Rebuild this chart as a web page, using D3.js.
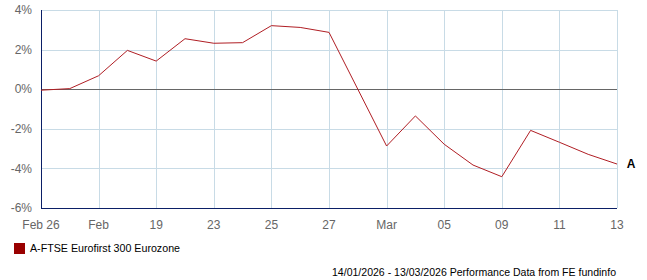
<!DOCTYPE html>
<html>
<head>
	<meta charset="utf-8">
	<title>FTSE Eurofirst 300 Eurozone</title>
	<style>
		body { margin: 0; background: #fff; }
		text { font-family: "Liberation Sans", Arial, sans-serif; }
	</style>
</head>
<body>
	<script src="https://d3js.org/d3.v7.min.js" charset="utf-8"></script>
	<script>
var seriesName = 'A-FTSE Eurofirst 300 Eurozone';
var values = [-0.05, 0.03, 0.68, 1.96, 1.42, 2.55, 2.32, 2.35, 3.21, 3.12, 2.87, 0.0, -2.87,
	-1.35, -2.78, -3.83, -4.42, -2.08, -2.68, -3.29, -3.78];
var xTickLabels = ['Feb 26', 'Feb', '19', '23', '25', '27', 'Mar', '05', '09', '11', '13'];
var yTicks = [4, 2, 0, -2, -4, -6];
var footer = '14/01/2026 - 13/03/2026 Performance Data from FE fundinfo';

var width = 647, height = 280;
var margin = {left: 41, right: 30, top: 10, bottom: 72};

var svg = d3.select('body').append('svg')
			.attr('width', width)
			.attr('height', height);

var x = d3.scaleLinear()
		.domain([0, values.length - 1])
		.range([margin.left, width - margin.right]);
var y = d3.scaleLinear()
		.domain([-6, 4])
		.range([height - margin.bottom, margin.top]);

var tickIdx = xTickLabels.map(function(d, i) { return i * 2; });

// grid
svg.append('g').selectAll('line.v')
	.data(tickIdx)
	.enter().append('line')
	.attr('x1', function(d) { return Math.round(x(d)) + 0.5; })
	.attr('x2', function(d) { return Math.round(x(d)) + 0.5; })
	.attr('y1', y(4)).attr('y2', y(-6))
	.attr('stroke', '#c8dbe6');

svg.append('g').selectAll('line.h')
	.data(yTicks.filter(function(d) { return d != 0 && d != -6; }))
	.enter().append('line')
	.attr('x1', x(0)).attr('x2', x(values.length - 1))
	.attr('y1', function(d) { return Math.round(y(d)) + 0.5; })
	.attr('y2', function(d) { return Math.round(y(d)) + 0.5; })
	.attr('stroke', '#c8dbe6');

// zero line
svg.append('line')
	.attr('x1', x(0)).attr('x2', x(values.length - 1))
	.attr('y1', Math.round(y(0)) + 0.5).attr('y2', Math.round(y(0)) + 0.5)
	.attr('stroke', '#666');

// axes
svg.append('line')
	.attr('x1', Math.round(x(0)) + 0.5).attr('x2', Math.round(x(0)) + 0.5)
	.attr('y1', y(4)).attr('y2', y(-6) + 1)
	.attr('stroke', '#0b1f66');
svg.append('line')
	.attr('x1', x(0)).attr('x2', x(values.length - 1))
	.attr('y1', Math.round(y(-6)) + 0.5).attr('y2', Math.round(y(-6)) + 0.5)
	.attr('stroke', '#0b1f66');

// y labels
svg.append('g').selectAll('text')
	.data(yTicks)
	.enter().append('text')
	.attr('x', 32)
	.attr('y', function(d) { return y(d); })
	.attr('dy', '0.35em')
	.attr('text-anchor', 'end')
	.attr('font-size', 12)
	.attr('fill', '#666')
	.text(function(d) { return d + '%'; });

// x labels
svg.append('g').selectAll('text')
	.data(xTickLabels)
	.enter().append('text')
	.attr('x', function(d, i) { return x(tickIdx[i]); })
	.attr('y', 225)
	.attr('dy', '0.35em')
	.attr('text-anchor', 'middle')
	.attr('font-size', 12)
	.attr('fill', '#666')
	.text(function(d) { return d; });

// series
var line = d3.line()
	.x(function(d, i) { return x(i); })
	.y(function(d) { return y(d); });

svg.append('path')
	.datum(values)
	.attr('d', line)
	.attr('fill', 'none')
	.attr('stroke', '#b01e24')
	.attr('stroke-width', 1);

svg.append('text')
	.attr('x', 631)
	.attr('y', y(values[values.length - 1]))
	.attr('dy', '0.35em')
	.attr('text-anchor', 'middle')
	.attr('font-size', 12)
	.attr('font-weight', 'bold')
	.attr('fill', '#000')
	.text('A');

// legend
svg.append('rect')
	.attr('x', 14).attr('y', 243)
	.attr('width', 11).attr('height', 11)
	.attr('fill', '#990000');
svg.append('text')
	.attr('x', 30).attr('y', 248.5)
	.attr('dy', '0.35em')
	.attr('font-size', 11)
	.attr('textLength', 150)
	.attr('lengthAdjust', 'spacingAndGlyphs')
	.attr('fill', '#000')
	.text(seriesName);

svg.append('text')
	.attr('x', 332).attr('y', 272)
	.attr('dy', '0.35em')
	.attr('font-size', 11)
	.attr('textLength', 284)
	.attr('lengthAdjust', 'spacingAndGlyphs')
	.attr('fill', '#000')
	.text(footer);
	</script>
</body>
</html>
